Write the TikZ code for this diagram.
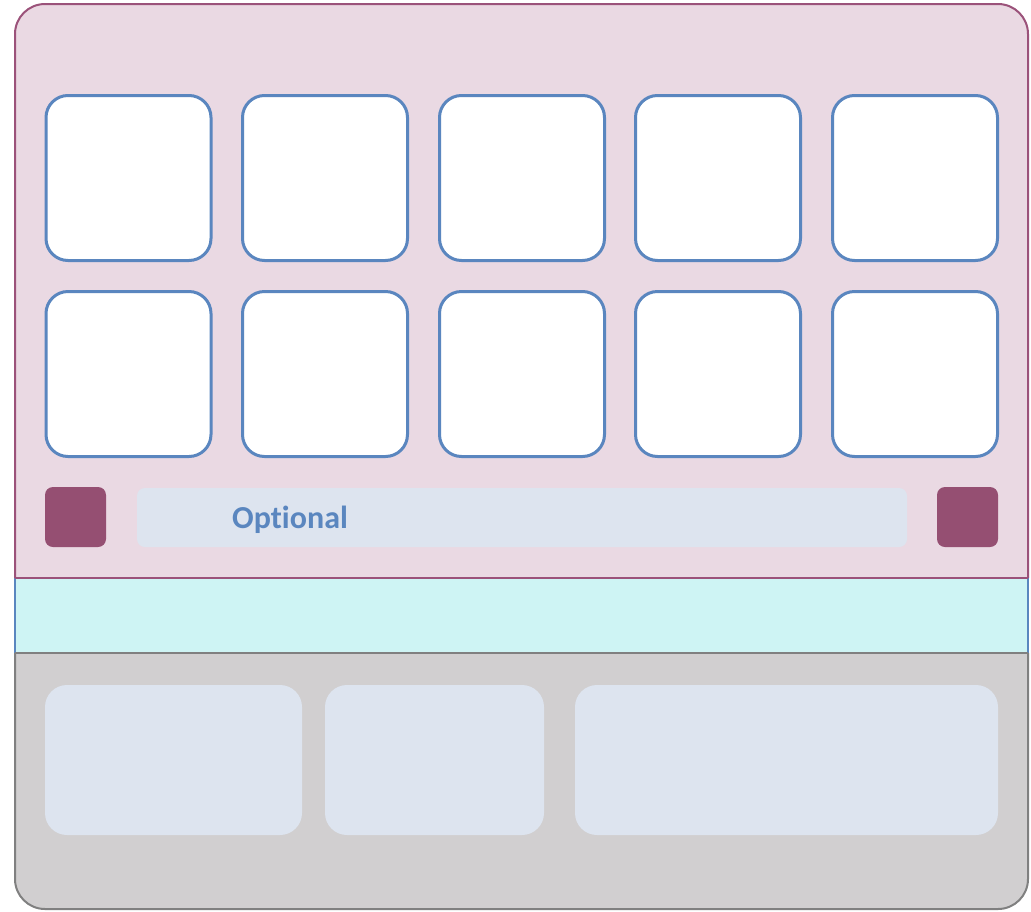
\documentclass[tikz,border=0pt]{standalone}
\usepackage{fontspec}
\newfontfamily\carlito[Ligatures={NoCommon}]{Carlito}
\definecolor{pinkbg}{HTML}{EAD9E3}
\definecolor{magline}{HTML}{9B527A}
\definecolor{cyanbg}{HTML}{CEF4F4}
\definecolor{greybg}{HTML}{D1CFD0}
\definecolor{greyline}{HTML}{808080}
\definecolor{blueline}{HTML}{5A86BF}
\definecolor{paleblue}{HTML}{DDE4EF}
\definecolor{plum}{HTML}{954F72}
\begin{document}
\begin{tikzpicture}[x=1pt,y=-1pt,
  tile/.style={draw=blueline,line width=3pt,fill=white,rounded corners=22pt,
    minimum width=165pt,minimum height=165pt,inner sep=0pt},
  sq/.style={fill=plum,rounded corners=8pt,minimum width=61pt,minimum height=60pt,inner sep=0pt},
  bar/.style={fill=paleblue,rounded corners=8pt,inner sep=0pt},
  panel/.style={fill=paleblue,rounded corners=22pt,inner sep=0pt,minimum height=150pt}]
\useasboundingbox (0,0) rectangle (1031,911);
% background bands clipped by outer rounded shape
\begin{scope}
  \clip[rounded corners=30pt] (15,4) rectangle (1028,909);
  \fill[pinkbg] (15,4) rectangle (1028,578);
  \fill[cyanbg] (15,578) rectangle (1028,653);
  \fill[greybg] (15,653) rectangle (1028,909);
\end{scope}
% borders
\draw[magline,line width=2pt,rounded corners=30pt] (15,578) -- (15,4) -- (1028,4) -- (1028,578);
\draw[blueline,line width=2pt] (15,578) -- (15,653) (1028,578) -- (1028,653);
\draw[greyline,line width=2pt,rounded corners=30pt] (15,653) -- (15,909) -- (1028,909) -- (1028,653);
\draw[magline,line width=2pt] (15,578) -- (1028,578);
\draw[greyline,line width=2pt] (15,653) -- (1028,653);
% tiles
\foreach \c/\x in {1/128.5,2/325,3/522,4/718,5/915}{
  \node[tile] (t1\c) at (\x,178) {};
  \node[tile] (t2\c) at (\x,374) {};
}
% optional row
\node[sq] (sqL) at (75.5,517) {};
\node[sq] (sqR) at (967.5,517) {};
\node[bar,minimum width=770pt,minimum height=59pt] (opt) at (522,517.5) {};
\node[text=blueline,font=\carlito\bfseries\fontsize{32}{34}\selectfont] (optlbl) at (290,520) {Optional};
% bottom panels
\node[panel,minimum width=257pt] (p1) at (173.5,760) {};
\node[panel,minimum width=219pt] (p2) at (434.5,760) {};
\node[panel,minimum width=423pt] (p3) at (786.5,760) {};
\end{tikzpicture}
\end{document}
